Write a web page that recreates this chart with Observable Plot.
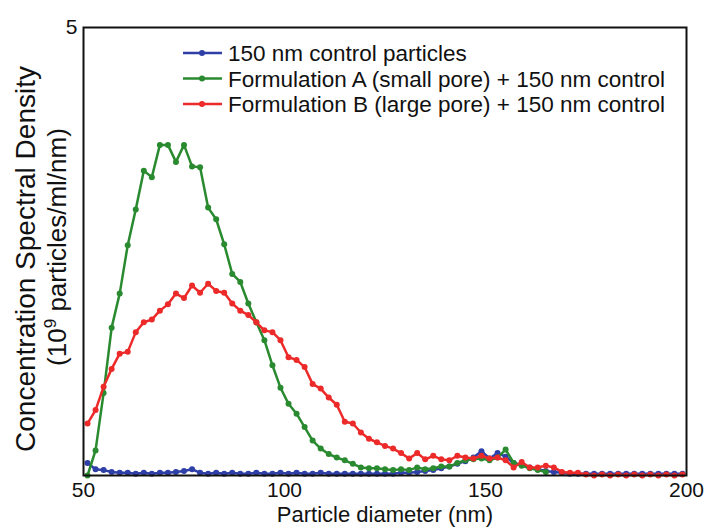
<!DOCTYPE html>
<html><head><meta charset="utf-8">
<script src="https://cdn.jsdelivr.net/npm/d3@7"></script>
<script src="https://cdn.jsdelivr.net/npm/@observablehq/plot@0.6"></script>
<style>body{margin:0;background:#fff}#chart{width:705px;height:528px}</style>
</head><body><div id="chart"></div>
<script>
// Particle diameter (nm)
const diameter = [51,53,55,57,59,61,63,65,67,69,71,73,75,77,79,81,83,85,87,89,91,93,95,97,99,101,103,105,107,109,111,113,115,117,119,121,123,125,127,129,131,133,135,137,139,141,143,145,147,149,151,153,155,157,159,161,163,165,167,169,171,173,175,177,179,181,183,185,187,189,191,193,195,197,199];
// 150 nm control particles
const control = [0.14,0.07,0.06,0.04,0.03,0.03,0.02,0.03,0.02,0.03,0.03,0.04,0.05,0.07,0.03,0.02,0.03,0.02,0.03,0.02,0.02,0.03,0.02,0.02,0.03,0.02,0.03,0.02,0.02,0.03,0.02,0.02,0.02,0.02,0.02,0.02,0.02,0.02,0.02,0.03,0.03,0.04,0.05,0.06,0.08,0.10,0.13,0.16,0.20,0.27,0.19,0.25,0.21,0.14,0.12,0.09,0.07,0.05,0.04,0.03,0.02,0.02,0.02,0.02,0.02,0.02,0.02,0.02,0.02,0.02,0.02,0.02,0.02,0.02,0.02];
// Formulation A (small pore) + 150 nm control (51..165 nm)
const formA = [0.00,0.28,0.92,1.65,2.03,2.57,2.97,3.40,3.33,3.69,3.69,3.50,3.69,3.45,3.44,2.99,2.86,2.58,2.25,2.16,1.92,1.71,1.51,1.23,0.98,0.80,0.69,0.54,0.39,0.30,0.24,0.20,0.17,0.13,0.09,0.08,0.08,0.07,0.06,0.07,0.06,0.09,0.07,0.08,0.10,0.10,0.14,0.17,0.18,0.19,0.17,0.20,0.29,0.14,0.11,0.08,0.06,0.04];
// Formulation B (large pore) + 150 nm control
const formB = [0.58,0.73,0.99,1.19,1.36,1.38,1.60,1.71,1.74,1.84,1.91,2.03,1.98,2.12,2.04,2.14,2.06,2.04,1.92,1.84,1.79,1.71,1.62,1.60,1.51,1.32,1.29,1.21,1.02,0.97,0.87,0.79,0.60,0.58,0.48,0.41,0.37,0.33,0.30,0.25,0.19,0.25,0.18,0.22,0.18,0.17,0.22,0.20,0.19,0.22,0.19,0.20,0.17,0.09,0.15,0.09,0.09,0.11,0.09,0.04,0.03,0.03,0.01,0.00,0.01,0.00,0.01,0.00,0.01,0.00,0.01,0.00,0.01,0.00,0.01];

const seriesNames = ["150 nm control particles","Formulation A (small pore) + 150 nm control","Formulation B (large pore) + 150 nm control"];
const seriesColors = ["#2f3fa8","#2a8a30","#ec2a2a"];
const seriesValues = [control, formA, formB];
const xTicks = [50,100,150,200];
const yTicks = [5];

const font = "'Liberation Sans', Arial, sans-serif";
const marks = [];
seriesValues.forEach((vals, s) => {
  const data = vals.map((v, i) => ({x: diameter[i], y: v}));
  marks.push(Plot.lineY(data, {x: "x", y: "y", stroke: seriesColors[s], strokeWidth: 2.5}));
  marks.push(Plot.dot(data, {x: "x", y: "y", fill: seriesColors[s], r: 3}));
});
marks.push(Plot.frame({stroke: "#111", strokeWidth: 2}));

const chart = Plot.plot({
  width: 705, height: 528,
  marginLeft: 83, marginRight: 19, marginTop: 27, marginBottom: 53,
  style: {fontFamily: font, fontSize: "21px", color: "#111", background: "#fff"},
  x: {domain: [50, 200], ticks: xTicks, tickSize: 0, tickPadding: 7, label: null},
  y: {domain: [0, 5], ticks: yTicks, tickFormat: "d", tickSize: 0, tickPadding: 6, label: null},
  marks
});
document.getElementById("chart").appendChild(chart);

const svg = d3.select(chart);
// axis titles
svg.append("text").attr("x", 385).attr("y", 522).attr("text-anchor", "middle")
  .attr("font-family", font).attr("font-size", 22).attr("fill", "#111").text("Particle diameter (nm)");
svg.append("text").attr("transform", "translate(35,259) rotate(-90)").attr("text-anchor", "middle")
  .attr("font-family", font).attr("font-size", 28).attr("fill", "#111").text("Concentration Spectral Density");
const l2 = svg.append("text").attr("transform", "translate(66,247) rotate(-90)").attr("text-anchor", "middle")
  .attr("font-family", font).attr("font-size", 26).attr("fill", "#111");
l2.append("tspan").text("(10");
l2.append("tspan").attr("font-size", 17).attr("dy", -10).text("9");
l2.append("tspan").attr("dy", 10).text(" particles/ml/nm)");

// legend
const lg = svg.append("g").attr("font-family", font).attr("font-size", 22.5).attr("fill", "#111").attr("text-anchor", "start");
seriesNames.forEach((name, s) => {
  const y = 53 + s * 25.5;
  lg.append("line").attr("x1", 183).attr("x2", 222).attr("y1", y).attr("y2", y)
    .attr("stroke", seriesColors[s]).attr("stroke-width", 2.5);
  lg.append("circle").attr("cx", 202).attr("cy", y).attr("r", 3).attr("fill", seriesColors[s]);
  lg.append("text").attr("x", 228).attr("y", y).attr("dy", "0.36em").text(name);
});
</script>
</body></html>
